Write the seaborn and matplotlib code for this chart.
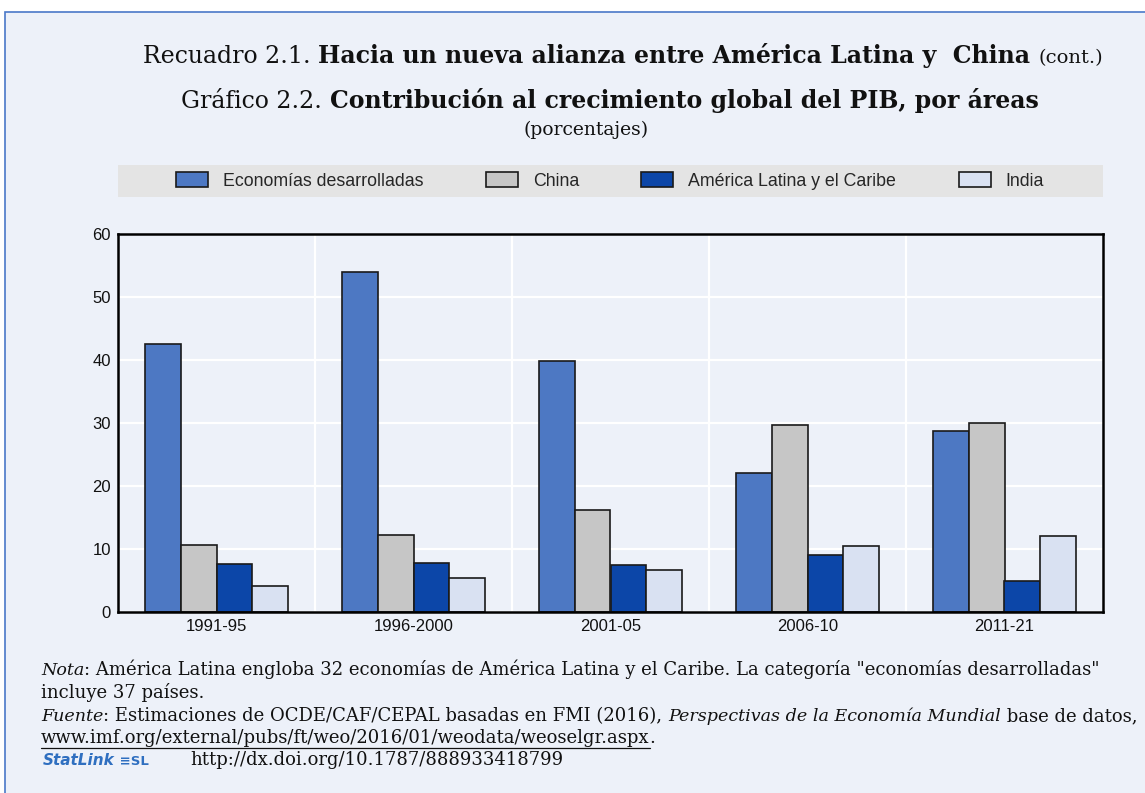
import matplotlib
matplotlib.use("Agg")
import matplotlib.pyplot as plt
import numpy as np
import pandas as pd
import seaborn as sns
from matplotlib.patches import Rectangle
from matplotlib.ticker import FixedLocator

# Datos (porcentajes)
PERIODOS = ["1991-95", "1996-2000", "2001-05", "2006-10", "2011-21"]
AREAS = ["Economías desarrolladas", "China", "América Latina y el Caribe", "India"]
DESARROLLADAS = [42.5, 53.9, 39.8, 22.1, 28.7]
CHINA = [10.6, 12.2, 16.2, 29.7, 30.0]
AMERICA_LATINA = [7.6, 7.7, 7.5, 9.1, 5.0]
INDIA = [4.2, 5.4, 6.6, 10.5, 12.0]
COLORES = ["#4D78C3", "#C6C6C6", "#0C46A8", "#D9E1F2"]
Y_TICKS = [0, 10, 20, 30, 40, 50, 60]

W, H = 1145, 793
FONDO = "#EDF1F9"
SERIF = "DejaVu Serif"
SANS = "Liberation Sans"


def px(x, y):
    """Pixeles (origen arriba-izquierda) -> coordenadas de figura."""
    return x / W, 1 - y / H


def escribir(fig, x, y, partes, ha="left"):
    """Escribe varios trozos de texto seguidos en una línea, con estilos distintos."""
    r = fig.canvas.get_renderer()
    textos = []
    cur = x
    for s, kw in partes:
        fx, fy = px(cur, y)
        t = fig.text(fx, fy, s, va="baseline", ha="left", **kw)
        cur += t.get_window_extent(r).width
        textos.append(t)
    total = cur - x
    desplaz = {"left": 0, "center": -total / 2, "right": -total}[ha]
    for t in textos:
        x0, y0 = t.get_position()
        t.set_position((x0 + desplaz / W, y0))
    return textos


df = pd.DataFrame({
    "periodo": PERIODOS * 4,
    "area": np.repeat(AREAS, len(PERIODOS)),
    "valor": DESARROLLADAS + CHINA + AMERICA_LATINA + INDIA,
})

sns.set_style("white")
plt.rcParams["font.family"] = [SANS, "DejaVu Sans"]

fig = plt.figure(figsize=(W / 100, H / 100), dpi=100, facecolor="white")
# fondo azul claro con borde superior e izquierdo
fig.patches.append(Rectangle((5 / W, -0.1), 1.1, 1.1 - 12 / H,
                             transform=fig.transFigure, facecolor=FONDO,
                             edgecolor="#4A78C8", linewidth=1.2, zorder=-2))
# banda gris de la leyenda
fig.patches.append(Rectangle(px(118, 197), 985 / W, 32 / H,
                             transform=fig.transFigure, facecolor="#E4E4E4",
                             edgecolor="none", zorder=-1))

ax = fig.add_axes([118 / W, 1 - 612 / H, 985 / W, 378 / H])
ax.set_facecolor(FONDO)

sns.barplot(data=df, x="periodo", y="valor", hue="area", hue_order=AREAS,
            order=PERIODOS, palette=COLORES, width=0.73, edgecolor="#1a1a1a",
            linewidth=1.2, saturation=1, ax=ax)

ax.set_ylim(0, 60)
ax.set_yticks(Y_TICKS)
ax.set_xlim(-0.5, len(PERIODOS) - 0.5)
ax.set_xlabel("")
ax.set_ylabel("")
ax.xaxis.set_minor_locator(FixedLocator(np.arange(0.5, len(PERIODOS) - 0.5, 1)))
ax.grid(axis="y", which="major", color="white", linewidth=1.6)
ax.grid(axis="x", which="minor", color="white", linewidth=1.6)
ax.set_axisbelow(True)
ax.tick_params(axis="both", which="major", length=0, labelsize=12, pad=5,
               colors="#111111")
ax.tick_params(axis="x", which="minor", length=4, direction="in", color="#999999")
for s in ax.spines.values():
    s.set_visible(True)
    s.set_color("black")
    s.set_linewidth(1.8)

handles, labels = ax.get_legend_handles_labels()
ax.get_legend().remove()

fig.legend(handles, labels, loc="center", bbox_to_anchor=px(610, 181), ncol=4,
           frameon=False, fontsize=12.8, handlelength=1.8, handleheight=0.9,
           columnspacing=3.5, handletextpad=0.85)

# Títulos
fig.canvas.draw()
t_reg = dict(family=SERIF, fontsize=17, color="#111111")
t_bold = dict(family=SERIF, fontsize=17, fontweight="bold", color="#111111")
escribir(fig, 1103, 63, [("Recuadro 2.1. ", t_reg),
                         ("Hacia un nueva alianza entre América Latina y  China ", t_bold),
                         ("(cont.)", dict(family=SERIF, fontsize=14, color="#111111"))],
         ha="right")
escribir(fig, 610, 108, [("Gráfico 2.2. ", t_reg),
                         ("Contribución al crecimiento global del PIB, por áreas", t_bold)],
         ha="center")
escribir(fig, 586, 135, [("(porcentajes)", dict(family=SERIF, fontsize=13.5, color="#111111"))],
         ha="center")

# Notas al pie
n_reg = dict(family=SERIF, fontsize=13.0, color="#111111")
n_it = dict(family=SERIF, fontsize=12.6, style="italic", color="#111111")
escribir(fig, 41, 675, [("Nota", n_it),
                        (": América Latina engloba 32 economías de América Latina y el Caribe. "
                         "La categoría \"economías desarrolladas\"", n_reg)])
escribir(fig, 41, 698, [("incluye 37 países.", n_reg)])
escribir(fig, 41, 721, [("Fuente", n_it),
                        (": Estimaciones de OCDE/CAF/CEPAL basadas en FMI (2016), ", n_reg),
                        ("Perspectivas de la Economía Mundial", n_it),
                        (" base de datos,", n_reg)])
url = escribir(fig, 41, 743, [("www.imf.org/external/pubs/ft/weo/2016/01/weodata/weoselgr.aspx", n_reg),
                              (".", n_reg)])
bb = url[0].get_window_extent(fig.canvas.get_renderer())
fig.add_artist(plt.Line2D([bb.x0 / W, bb.x1 / W], [(bb.y0 - 1) / H] * 2,
                          transform=fig.transFigure, color="#111111", linewidth=0.9))
escribir(fig, 43, 765, [("StatLink", dict(family="DejaVu Sans", fontsize=11, style="italic",
                                          fontweight="bold", color="#2F6FC0")),
                        (" \u2261SL", dict(family="DejaVu Sans", fontsize=9.5,
                                           fontweight="bold", color="#2F6FC0"))])
escribir(fig, 190, 765, [("http://dx.doi.org/10.1787/888933418799", n_reg)])

fig.savefig("out.png", dpi=100, facecolor=fig.get_facecolor())
